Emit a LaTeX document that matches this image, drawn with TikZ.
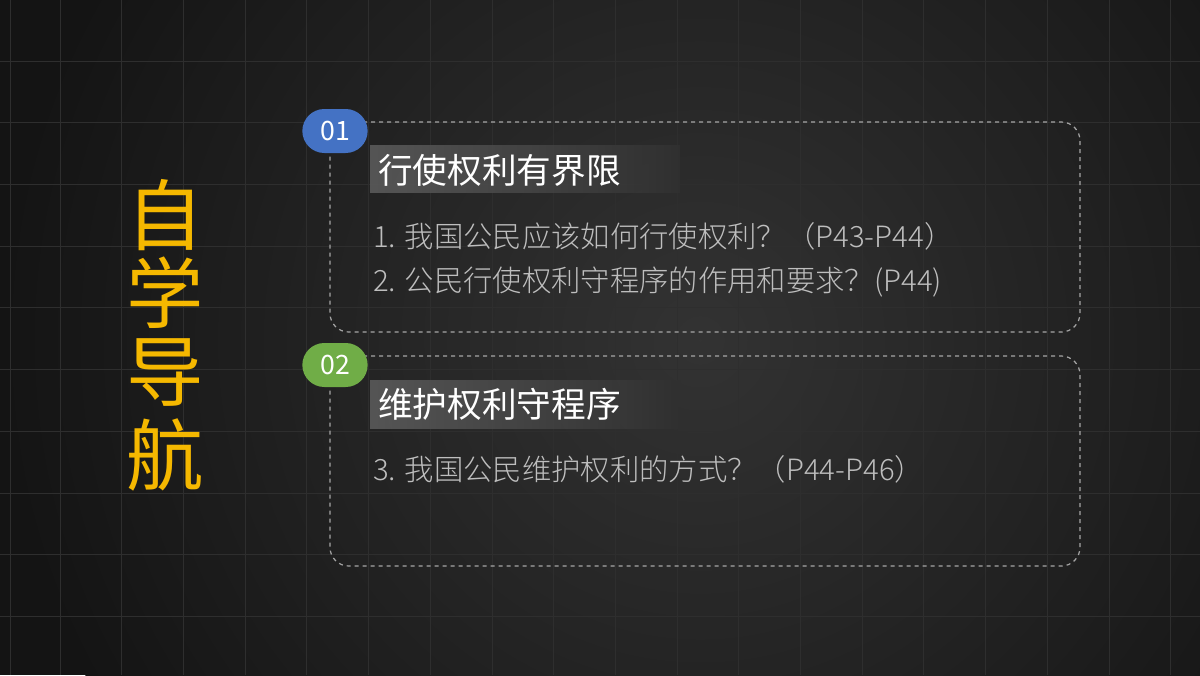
\documentclass[tikz,border=0pt]{standalone}
\usepackage{fontspec}
\newfontfamily\cjk{Noto Sans CJK SC}
\newfontfamily\cjkl{Noto Sans CJK SC Light}
\usetikzlibrary{shapes.misc}
\definecolor{bg}{HTML}{141414}
\definecolor{gridc}{HTML}{2E2E2E}
\definecolor{yel}{HTML}{F5B800}
\definecolor{pblue}{HTML}{4472C4}
\definecolor{pgreen}{HTML}{70AD47}
\definecolor{txt}{HTML}{BEBEBE}
\tikzset{
  frame/.style={draw=gray!70, dashed, rounded corners=14, line width=0.9pt},
  pill/.style={rounded rectangle, minimum width=49pt, minimum height=33pt, text=white, font=\cjk\fontsize{20}{20}\selectfont, inner sep=0pt},
  head/.style={anchor=west, text=white, font=\cjk\fontsize{26}{26}\selectfont, inner sep=0pt},
  item/.style={anchor=west, text=txt, font=\cjkl\fontsize{22}{22}\selectfont, inner sep=0pt},
  big/.style={text=yel, font=\cjk\fontsize{58}{58}\selectfont, inner sep=0pt}
}
\begin{document}
\begin{tikzpicture}[x=0.75pt,y=-0.75pt]
\useasboundingbox (0,0) rectangle (1200,675);
\begin{scope}
\clip (0,0) rectangle (1200,675);
\fill[bg] (0,0) rectangle (1200,675);
\shade[inner color=white!13!bg, outer color=bg] (700,340) circle (700);
\end{scope}
\foreach \i in {0,...,18} \draw[gridc, line width=0.6pt] ({60+61.7*\i},0) -- ({60+61.7*\i},675);
\foreach \i in {0,...,10} \draw[gridc, line width=0.6pt] (0,{61+61.7*\i}) -- (1200,{61+61.7*\i});
\draw[gridc] (10,0) -- (10,675);
% title
\node[big] (t1) at (165,215) {自};
\node[big] (t2) at (165,293) {学};
\node[big] (t3) at (165,373) {导};
\node[big] (t4) at (165,455) {航};
% box 1
\draw[frame] (330,122) rectangle (1080,332);
\shade[left color=white!30!bg, right color=white!12!bg, opacity=0.9] (370,145) rectangle (680,192);
\node[pill, fill=pblue] (p1) at (335,131) {01};
\node[head] (h1) at (378,170) {行使权利有界限};
\node[item] (l1) at (373,236) {1. 我国公民应该如何行使权利？（P43-P44）};
\node[item] (l2) at (373,282) {2. 公民行使权利守程序的作用和要求？(P44)};
% box 2
\draw[frame] (330,356) rectangle (1080,566);
\shade[left color=white!30!bg, right color=white!12!bg, opacity=0.9] (370,380) rectangle (680,428);
\node[pill, fill=pgreen] (p2) at (335,365) {02};
\node[head] (h2) at (378,404) {维护权利守程序};
\node[item] (l3) at (373,469) {3. 我国公民维护权利的方式？（P44-P46）};
\end{tikzpicture}
\end{document}
